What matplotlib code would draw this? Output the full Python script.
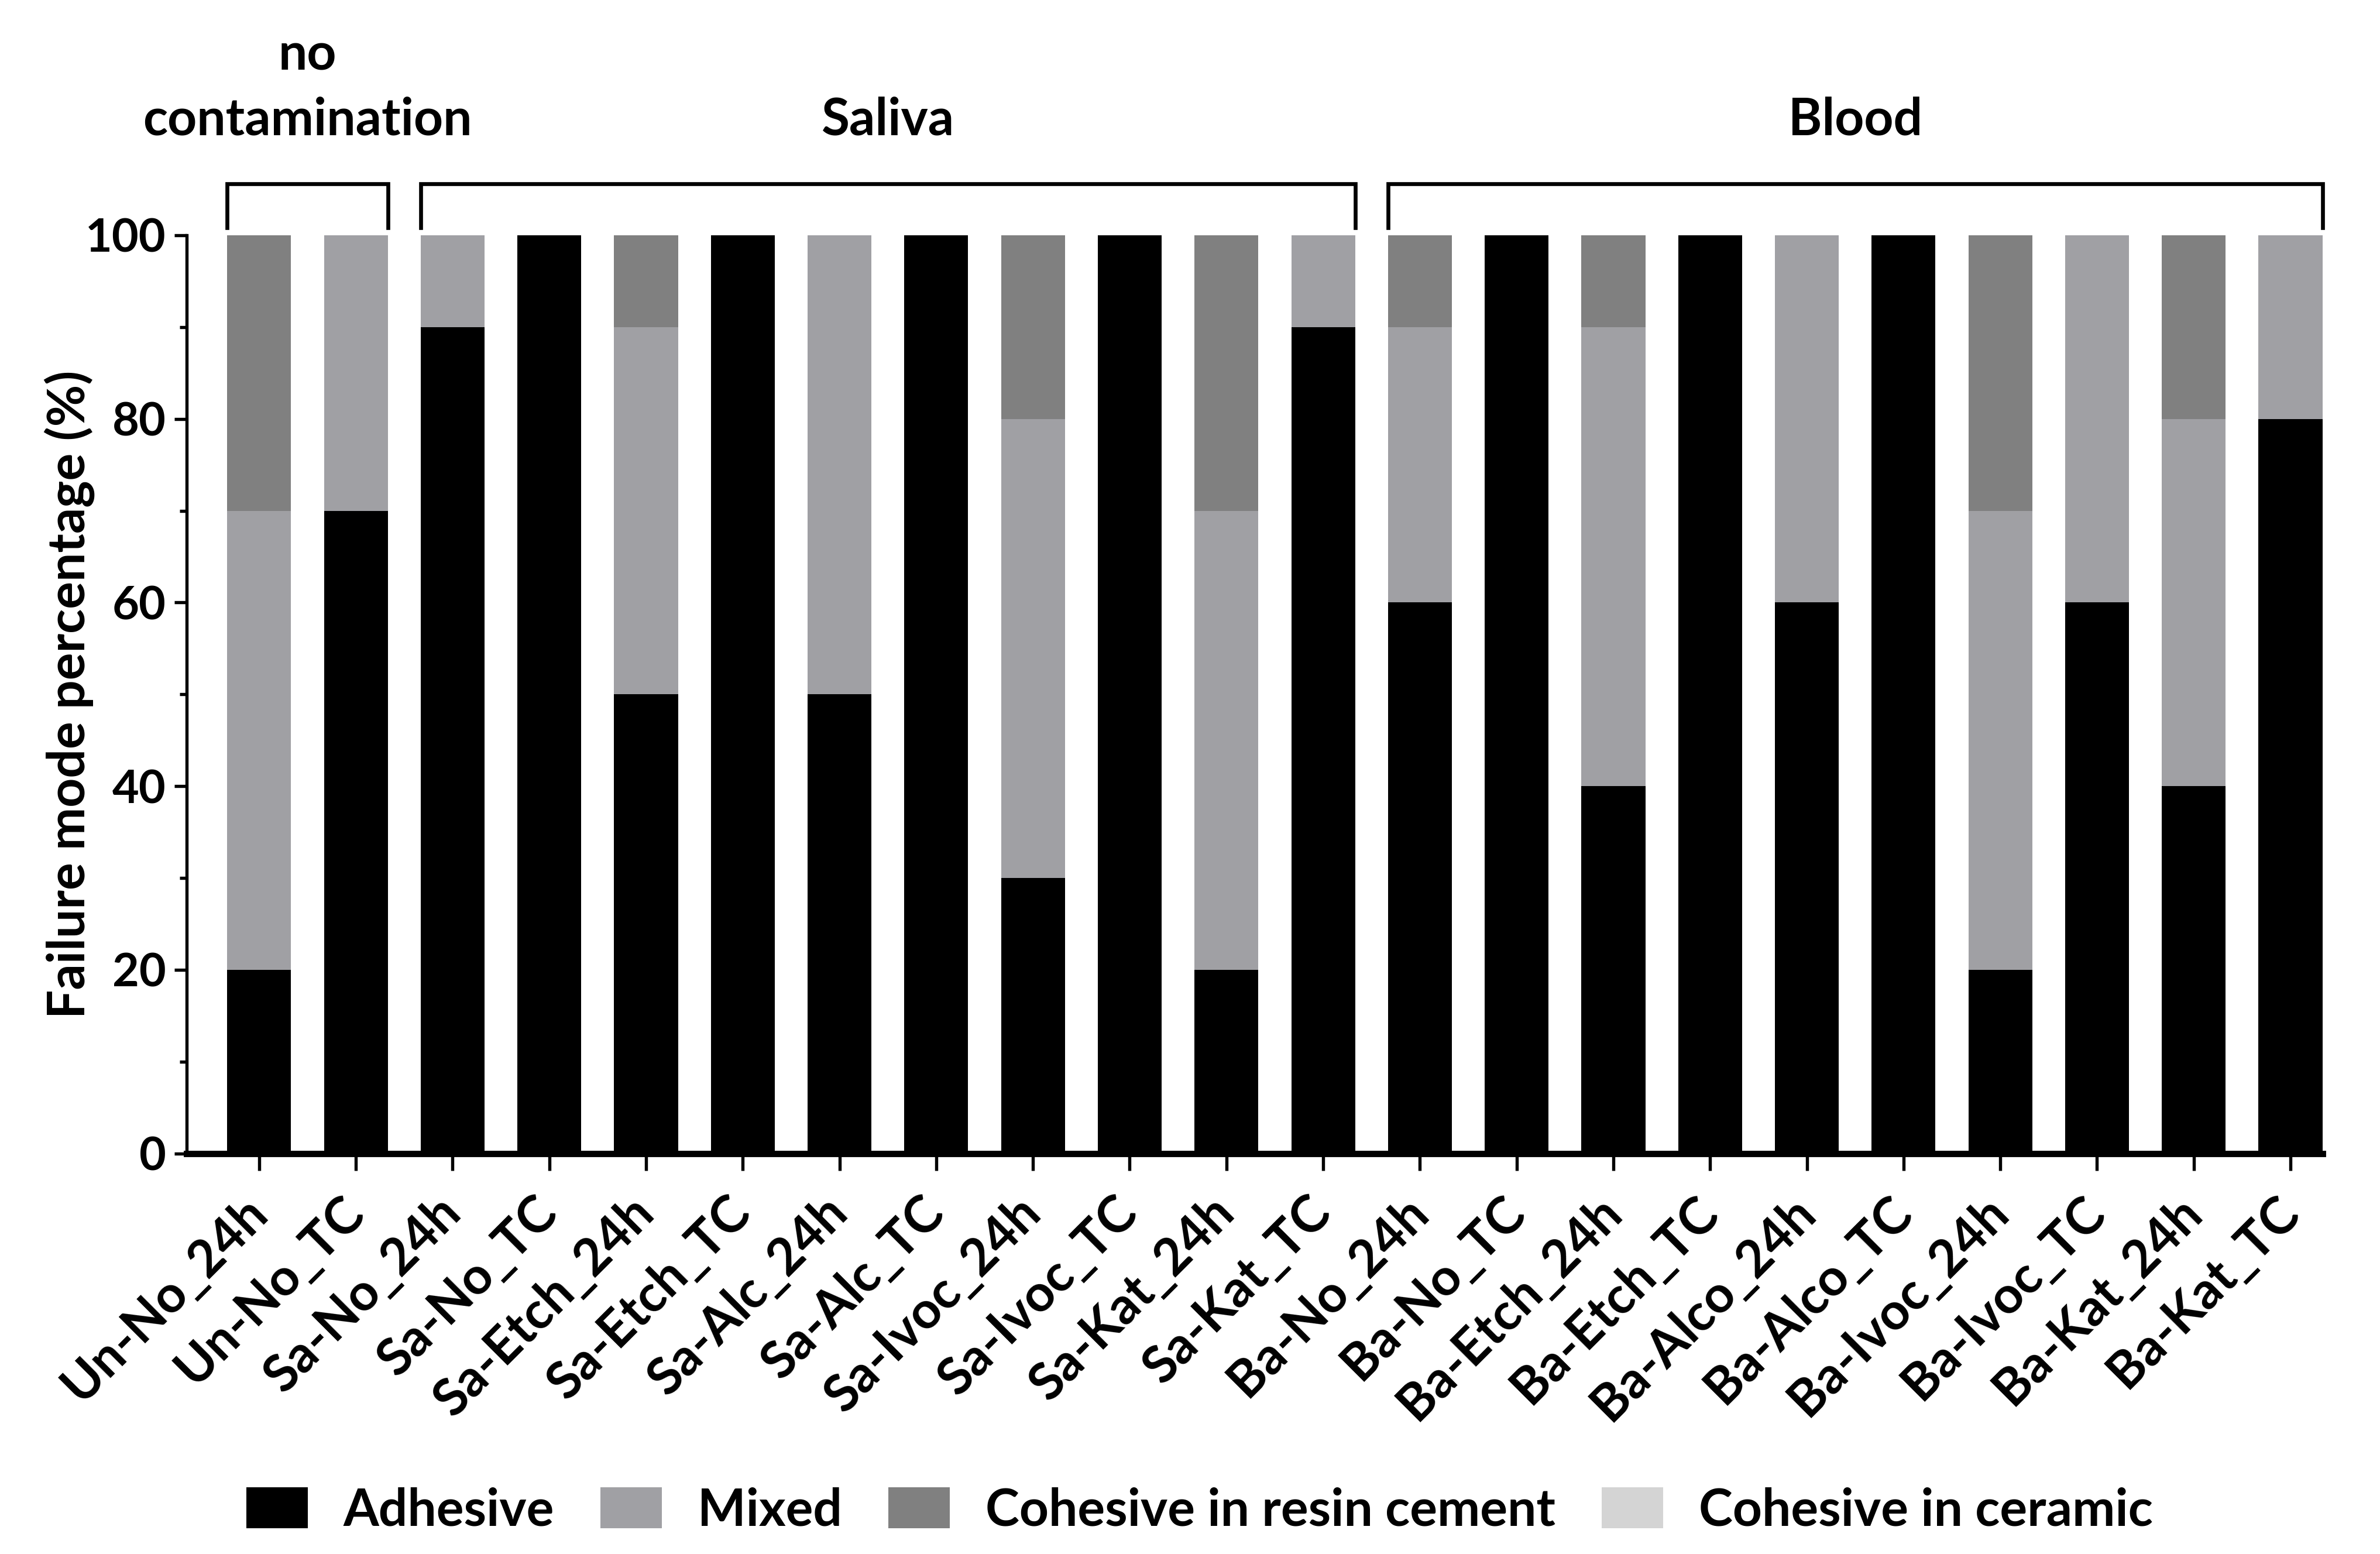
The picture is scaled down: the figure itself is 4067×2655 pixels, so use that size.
import matplotlib
matplotlib.use("Agg")
import matplotlib.pyplot as plt
import numpy as np
from matplotlib.ticker import MultipleLocator

plt.rcParams["font.family"] = ["Lato", "DejaVu Sans"]
plt.rcParams["font.weight"] = "bold"

groups = ["Un-No_24h", "Un-No_TC", "Sa-No_24h", "Sa-No_TC", "Sa-Etch_24h", "Sa-Etch_TC",
          "Sa-Alc_24h", "Sa-Alc_TC", "Sa-Ivoc_24h", "Sa-Ivoc_TC", "Sa-Kat_24h", "Sa-Kat_TC",
          "Ba-No_24h", "Ba-No_TC", "Ba-Etch_24h", "Ba-Etch_TC", "Ba-Alco_24h", "Ba-Alco_TC",
          "Ba-Ivoc_24h", "Ba-Ivoc_TC", "Ba-Kat_24h", "Ba-Kat_TC"]
adhesive = [20, 70, 90, 100, 50, 100, 50, 100, 30, 100, 20, 90,
            60, 100, 40, 100, 60, 100, 20, 60, 40, 80]
mixed = [50, 30, 10, 0, 40, 0, 50, 0, 50, 0, 50, 10,
         30, 0, 50, 0, 40, 0, 50, 40, 40, 20]
cohesive_resin = [30, 0, 0, 0, 10, 0, 0, 0, 20, 0, 30, 0,
                  10, 0, 10, 0, 0, 0, 30, 0, 20, 0]
cohesive_ceramic = [0] * 22

sections = ["no\ncontamination", "Saliva", "Blood"]
section_ranges = [(0, 1), (2, 11), (12, 21)]

colors = ["#000000", "#a0a0a4", "#808080", "#d4d4d4"]
series_names = ["Adhesive", "Mixed", "Cohesive in resin cement", "Cohesive in ceramic"]

fig = plt.figure(figsize=(4067 / 300, 2655 / 300), dpi=300)
ax = fig.add_axes([0.0784, 0.2578, 0.8974, 0.5908])

x = np.arange(len(groups))
w = 0.66
bottom = np.zeros(len(groups))
for vals, c, name in zip([adhesive, mixed, cohesive_resin, cohesive_ceramic], colors, series_names):
    ax.bar(x, vals, w, bottom=bottom, color=c, label=name, linewidth=0)
    bottom += np.array(vals)

ax.set_xlim(-0.75, 21.33)
ax.set_ylim(0, 100)
ax.yaxis.set_major_locator(MultipleLocator(20))
ax.yaxis.set_minor_locator(MultipleLocator(10))
ax.set_xticks(x)
ax.set_xticklabels(groups, rotation=45, ha="right", va="center", rotation_mode="anchor")

for s in ["top", "right"]:
    ax.spines[s].set_visible(False)
ax.spines["bottom"].set_linewidth(2.6)
ax.spines["left"].set_linewidth(1.3)

ax.tick_params(axis="x", length=7, width=1.3, pad=14, labelsize=21)
ax.tick_params(axis="y", which="major", length=5, width=1.3, labelsize=19)
ax.tick_params(axis="y", which="minor", length=3, width=1.3)
for lab in ax.get_xticklabels() + ax.get_yticklabels():
    lab.set_fontweight("bold")

ax.set_ylabel("Failure mode percentage (%)", fontsize=21, fontweight="bold", labelpad=-4)

# group brackets above bars
for name, (a, b) in zip(sections, section_ranges):
    x0, x1 = a - w / 2, b + w / 2
    ax.plot([x0, x0, x1, x1], [100.8, 105.6, 105.6, 100.8], color="black", lw=1.6,
            clip_on=False, solid_joinstyle="miter")
    ax.text((x0 + x1) / 2, 110.0, name, ha="center", va="bottom", fontsize=21,
            fontweight="bold", linespacing=1.45)

leg = fig.legend(loc="lower center", bbox_to_anchor=(0.504, -0.017), ncol=4, frameon=False,
                 fontsize=21, handlelength=1.2, handleheight=0.85, handletextpad=0.7,
                 columnspacing=0.9)
for t in leg.get_texts():
    t.set_fontweight("bold")

fig.savefig("out.png", dpi=300)
